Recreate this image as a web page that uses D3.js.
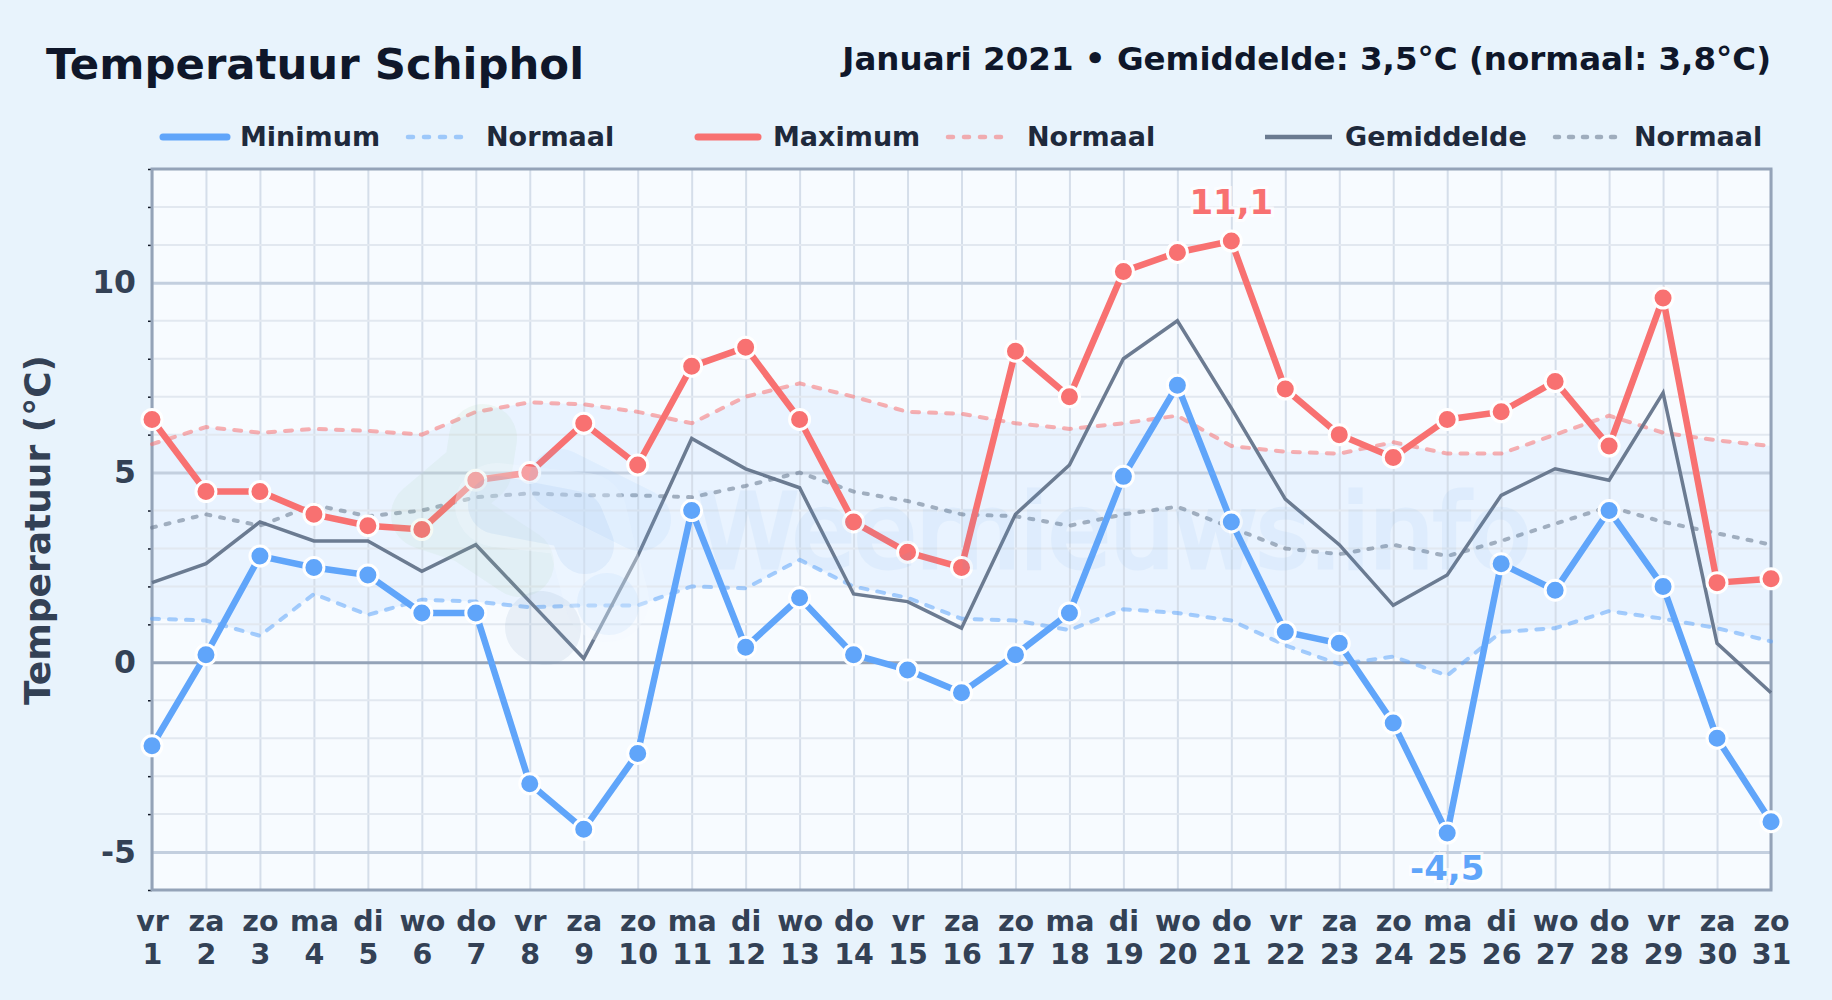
<!DOCTYPE html>
<html>
<head>
<meta charset="utf-8">
<title>Temperatuur Schiphol</title>
<script src="https://cdnjs.cloudflare.com/ajax/libs/d3/7.8.5/d3.min.js"></script>
<style>
  html, body { margin: 0; padding: 0; background: #e8f3fc; }
  svg { display: block; font-family: "DejaVu Sans", sans-serif; }
  .tick-y text { font-family: "DejaVu Sans", sans-serif; font-size: 31.5px; font-weight: bold; fill: #334155; }
  .tick-x text { font-family: "DejaVu Sans", sans-serif; font-size: 28.5px; font-weight: bold; fill: #334155; }
  .legend-label { font-size: 27px; font-weight: bold; fill: #1e293b; }
</style>
</head>
<body>
<div id="chart"></div>
<script>
// day labels
var weekdays = ["vr","za","zo","ma","di","wo","do","vr","za","zo","ma","di","wo","do","vr","za","zo","ma","di","wo","do","vr","za","zo","ma","di","wo","do","vr","za","zo"];
var days = d3.range(1, 32);

// measured values (°C)
var minTemp = [-2.2,0.2,2.8,2.5,2.3,1.3,1.3,-3.2,-4.4,-2.4,4.0,0.4,1.7,0.2,-0.2,-0.8,0.2,1.3,4.9,7.3,3.7,0.8,0.5,-1.6,-4.5,2.6,1.9,4.0,2.0,-2.0,-4.2];
var maxTemp = [6.4,4.5,4.5,3.9,3.6,3.5,4.8,5.0,6.3,5.2,7.8,8.3,6.4,3.7,2.9,2.5,8.2,7.0,10.3,10.8,11.1,7.2,6.0,5.4,6.4,6.6,7.4,5.7,9.6,2.1,2.2];
var meanTemp = [2.1,2.6,3.7,3.2,3.2,2.4,3.1,1.6,0.1,2.8,5.9,5.1,4.6,1.8,1.6,0.9,3.9,5.2,8.0,9.0,6.7,4.3,3.1,1.5,2.3,4.4,5.1,4.8,7.1,0.5,-0.8];

// climate normals
var normalMin = [1.15,1.1,0.7,1.8,1.25,1.65,1.6,1.45,1.5,1.5,2.0,1.95,2.7,2.0,1.7,1.15,1.1,0.85,1.4,1.3,1.1,0.45,-0.05,0.15,-0.35,0.8,0.9,1.35,1.15,0.9,0.55];
var normalMax = [5.75,6.2,6.05,6.15,6.1,6.0,6.6,6.85,6.8,6.6,6.3,7.0,7.35,7.0,6.6,6.55,6.3,6.15,6.3,6.5,5.7,5.55,5.5,5.8,5.5,5.5,6.0,6.5,6.05,5.85,5.7];
var normalMean = [3.55,3.9,3.6,4.15,3.85,4.0,4.35,4.45,4.4,4.4,4.35,4.65,5.0,4.5,4.25,3.9,3.85,3.6,3.9,4.1,3.55,3.0,2.85,3.1,2.8,3.2,3.65,4.1,3.7,3.4,3.1];

var yLabels = [-5, 0, 5, 10];
var yMinor = [-6,-4,-3,-2,-1,1,2,3,4,6,7,8,9,11,12,13];

var svgWidth = 1832;
var svgHeight = 1000;
var margin = { top: 169, right: 61, bottom: 110, left: 152 };
var width = svgWidth - margin.left - margin.right;
var height = svgHeight - margin.top - margin.bottom;

var blue = "#60a5fa", red = "#f87171", slate = "#64748b";

var svg = d3.select("#chart").append("svg")
    .attr("width", svgWidth)
    .attr("height", svgHeight);

svg.append("rect")
    .attr("width", svgWidth)
    .attr("height", svgHeight)
    .attr("fill", "#e8f3fc");

// titles
svg.append("text")
    .attr("x", 46)
    .attr("y", 79)
    .attr("font-size", 43.4)
    .attr("font-weight", "bold")
    .attr("fill", "#0f172a")
    .text("Temperatuur Schiphol");

svg.append("text")
    .attr("x", svgWidth - margin.right)
    .attr("y", 70)
    .attr("text-anchor", "end")
    .attr("font-size", 32.5)
    .attr("font-weight", "bold")
    .attr("fill", "#0f172a")
    .text("Januari 2021 • Gemiddelde: 3,5°C (normaal: 3,8°C)");

var chartGroup = svg.append("g")
    .attr("transform", `translate(${margin.left}, ${margin.top})`);

var xScale = d3.scaleLinear().domain([1, 31]).range([0, width]);
var yScale = d3.scaleLinear().domain([-6, 13]).range([height, 0]);

chartGroup.append("rect")
    .attr("width", width)
    .attr("height", height)
    .attr("fill", "#f7fbff");

// band between the two normals
var band = d3.area()
    .x((d, i) => xScale(days[i]))
    .y0((d, i) => yScale(normalMin[i]))
    .y1((d, i) => yScale(normalMax[i]));

chartGroup.append("path")
    .attr("d", band(days))
    .attr("fill", blue)
    .attr("opacity", 0.09);

// watermark, page coordinates
var logo = svg.append("g").attr("fill", "none").attr("stroke-linecap", "round").attr("stroke-linejoin", "round");
logo.append("path").attr("d", "M483,438 L478,470 L425,515 L470,530 L520,563")
    .attr("stroke", "#9ccf9c").attr("stroke-width", 68).attr("opacity", 0.1);
logo.append("path").attr("d", "M497,505 L585,515 L592,545 L607,600")
    .attr("stroke", "#f4f9ff").attr("stroke-width", 84).attr("opacity", 0.35);
logo.append("path").attr("d", "M560,480 L640,520")
    .attr("stroke", "#7db8f5").attr("stroke-width", 62).attr("opacity", 0.1);
logo.append("path").attr("d", "M607,603 L609,605")
    .attr("stroke", "#7db8f5").attr("stroke-width", 60).attr("opacity", 0.1);
logo.append("path").attr("d", "M497,505 L575,520 L585,545")
    .attr("stroke", "#5f9fe0").attr("stroke-width", 58).attr("opacity", 0.1);
logo.append("path").attr("d", "M541,627 L545,629")
    .attr("stroke", "#7f9fbf").attr("stroke-width", 72).attr("opacity", 0.12);

svg.append("text")
    .attr("x", 698)
    .attr("y", 567)
    .attr("font-size", 101)
    .attr("fill", "#5a9fe6")
    .attr("stroke", "#5a9fe6")
    .attr("stroke-width", 5)
    .attr("opacity", 0.07)
    .text("Weernieuws.info");

// grid and axes
var xGrid = chartGroup.append("g")
    .call(d3.axisBottom(xScale).tickValues(days).tickSize(height).tickFormat(""));
xGrid.select(".domain").remove();
xGrid.selectAll("line").attr("stroke", "#d5deea").attr("stroke-width", 2);

var yMinorAxis = chartGroup.append("g")
    .call(d3.axisLeft(yScale).tickValues(yMinor).tickSize(4).tickFormat(""));
yMinorAxis.select(".domain").remove();
yMinorAxis.selectAll("line").attr("stroke", "#111827").attr("stroke-width", 1.5);
yMinor.forEach(function (v) {
    chartGroup.append("line")
        .attr("x1", 0).attr("x2", width)
        .attr("y1", yScale(v)).attr("y2", yScale(v))
        .attr("stroke", "#e2e8f0").attr("stroke-width", 2);
});

var yAxis = chartGroup.append("g")
    .attr("class", "tick-y")
    .call(d3.axisLeft(yScale).tickValues(yLabels).tickSize(-width).tickPadding(16).tickFormat(d => d));
yAxis.select(".domain").remove();
yAxis.selectAll("line")
    .attr("stroke", d => d === 0 ? "#94a3b8" : "#c3cfdf")
    .attr("stroke-width", 3);

var xAxis = chartGroup.append("g")
    .attr("class", "tick-x")
    .attr("transform", `translate(0, ${height})`)
    .call(d3.axisBottom(xScale).tickValues(days).tickSize(0).tickFormat(""));
xAxis.select(".domain").remove();
xAxis.selectAll(".tick text").each(function (d, i) {
    var t = d3.select(this).attr("y", 0).attr("dy", null);
    t.append("tspan").attr("x", 0).attr("y", 41).text(weekdays[i]);
    t.append("tspan").attr("x", 0).attr("y", 74).text(days[i]);
});

chartGroup.append("rect")
    .attr("width", width)
    .attr("height", height)
    .attr("fill", "none")
    .attr("stroke", "#94a3b8")
    .attr("stroke-width", 3);

// y axis title
svg.append("text")
    .attr("transform", `translate(50, 530) rotate(-90)`)
    .attr("text-anchor", "middle")
    .attr("font-size", 36)
    .attr("font-weight", "bold")
    .attr("fill", "#334155")
    .text("Temperatuur (°C)");

// lines
function makeLine(values) {
    return d3.line()
        .x((d, i) => xScale(days[i]))
        .y(d => yScale(d))(values);
}

var normals = [
    { values: normalMin, color: blue, dash: "7,10" },
    { values: normalMax, color: red, dash: "7,10" },
    { values: normalMean, color: slate, dash: "4,10" }
];
normals.forEach(function (n) {
    chartGroup.append("path")
        .attr("d", makeLine(n.values))
        .attr("fill", "none")
        .attr("stroke", n.color)
        .attr("stroke-width", 4)
        .attr("stroke-linecap", "round")
        .attr("stroke-dasharray", n.dash)
        .attr("opacity", 0.55);
});

chartGroup.append("path")
    .attr("d", makeLine(meanTemp))
    .attr("fill", "none")
    .attr("stroke", slate)
    .attr("stroke-width", 3.5)
    .attr("opacity", 0.95);

[{ values: maxTemp, color: red }, { values: minTemp, color: blue }].forEach(function (s) {
    chartGroup.append("path")
        .attr("d", makeLine(s.values))
        .attr("fill", "none")
        .attr("stroke", s.color)
        .attr("stroke-width", 6.5);
    chartGroup.selectAll(null)
        .data(s.values)
        .enter()
        .append("circle")
        .attr("cx", (d, i) => xScale(days[i]))
        .attr("cy", d => yScale(d))
        .attr("r", 10)
        .attr("fill", s.color)
        .attr("stroke", "#fff")
        .attr("stroke-width", 3);
});

// extremes
var maxDay = d3.maxIndex(maxTemp);
var minDay = d3.minIndex(minTemp);
[
    { i: maxDay, v: maxTemp[maxDay], color: red, dy: -27 },
    { i: minDay, v: minTemp[minDay], color: blue, dy: 47 }
].forEach(function (p) {
    chartGroup.append("text")
        .attr("x", xScale(days[p.i]))
        .attr("y", yScale(p.v) + p.dy)
        .attr("text-anchor", "middle")
        .attr("font-size", 34)
        .attr("font-weight", "bold")
        .attr("fill", p.color)
        .attr("stroke", "#fff")
        .attr("stroke-width", 6)
        .attr("stroke-opacity", 0.7)
        .attr("paint-order", "stroke")
        .text(String(p.v).replace(".", ","));
});

// legend, hand placed like the original
var legendItems = [
    { label: "Minimum", color: blue, x1: 163, x2: 227, tx: 240, w: 7, op: 1, dash: null },
    { label: "Normaal", color: blue, x1: 408, x2: 464, tx: 486, w: 4.5, op: 0.55, dash: "5,11" },
    { label: "Maximum", color: red, x1: 698, x2: 758, tx: 773, w: 7, op: 1, dash: null },
    { label: "Normaal", color: red, x1: 948, x2: 1006, tx: 1027, w: 4.5, op: 0.55, dash: "5,11" },
    { label: "Gemiddelde", color: slate, x1: 1265, x2: 1332, tx: 1345, w: 4.5, op: 0.95, dash: null },
    { label: "Normaal", color: slate, x1: 1555, x2: 1618, tx: 1634, w: 4.5, op: 0.55, dash: "4,10" }
];
legendItems.forEach(function (l) {
    svg.append("line")
        .attr("x1", l.x1).attr("x2", l.x2)
        .attr("y1", 137).attr("y2", 137)
        .attr("stroke", l.color)
        .attr("stroke-width", l.w)
        .attr("stroke-linecap", l.color === slate && !l.dash ? "butt" : "round")
        .attr("stroke-dasharray", l.dash)
        .attr("opacity", l.op);
    svg.append("text")
        .attr("class", "legend-label")
        .attr("x", l.tx)
        .attr("y", 146)
        .text(l.label);
});
</script>
</body>
</html>
